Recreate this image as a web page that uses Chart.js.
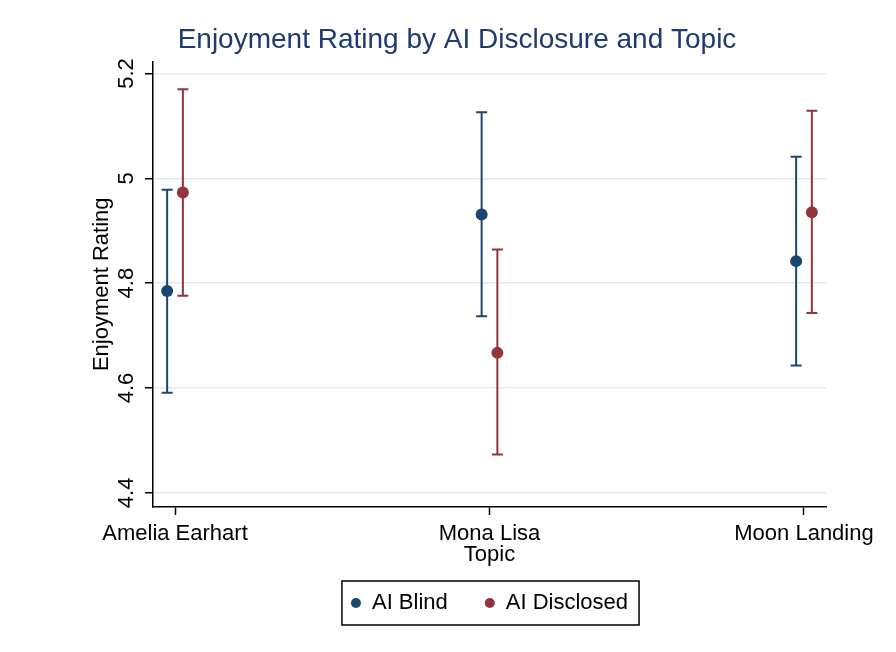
<!DOCTYPE html>
<html>
<head>
<meta charset="utf-8">
<script src="https://cdn.jsdelivr.net/npm/chart.js@4.4.0/dist/chart.umd.min.js"></script>
<style>
html,body{margin:0;padding:0;background:#fff;}
</style>
</head>
<body>
<canvas id="chart" width="896" height="652"></canvas>
<script>
const topics=["Amelia Earhart","Mona Lisa","Moon Landing"];
const blindMean=[4.785,4.931,4.842];
const blindLow=[4.591,4.737,4.643];
const blindHigh=[4.978,5.126,5.041];
const disclosedMean=[4.973,4.667,4.935];
const disclosedLow=[4.776,4.473,4.743];
const disclosedHigh=[5.170,4.864,5.129];
const yTicks=[4.4,4.6,4.8,5,5.2];

const navy="#1a476f", maroon="#90353b";
Chart.defaults.font.family="'Liberation Sans', Arial, sans-serif";

// dodge the two groups a little left/right of each topic
function points(mean,low,high,shift){
  return mean.map((m,i)=>({x:i+shift,y:m,lo:low[i],hi:high[i]}));
}

const errorBars={
  id:"errorBars",
  beforeDatasetsDraw(chart){
    const {ctx,scales:{x,y}}=chart;
    chart.data.datasets.forEach(ds=>{
      ctx.save();
      ctx.strokeStyle=ds.borderColor;
      ctx.lineWidth=2;
      ds.data.forEach(p=>{
        const px=x.getPixelForValue(p.x), lo=y.getPixelForValue(p.lo), hi=y.getPixelForValue(p.hi);
        ctx.beginPath();
        ctx.moveTo(px,lo);ctx.lineTo(px,hi);
        ctx.moveTo(px-5.5,lo);ctx.lineTo(px+5.5,lo);
        ctx.moveTo(px-5.5,hi);ctx.lineTo(px+5.5,hi);
        ctx.stroke();
      });
      ctx.restore();
    });
  }
};

const legendBox={
  id:"legendBox",
  afterDraw(chart){
    const boxes=chart.legend.legendHitBoxes;
    if(!boxes||!boxes.length) return;
    const a=boxes[0], b=boxes[boxes.length-1];
    const ctx=chart.ctx;
    ctx.save();
    ctx.strokeStyle="#000";ctx.lineWidth=1.5;
    const l=a.left-9, r=b.left+b.width+11;
    ctx.strokeRect(l,a.top-11,r-l,a.height+22);
    ctx.restore();
  }
};

new Chart(document.getElementById("chart"),{
  type:"scatter",
  data:{
    datasets:[
      {label:"AI Blind",data:points(blindMean,blindLow,blindHigh,-0.025),
        backgroundColor:navy,borderColor:navy,pointRadius:6,pointHoverRadius:6,borderWidth:0},
      {label:"AI Disclosed",data:points(disclosedMean,disclosedLow,disclosedHigh,0.025),
        backgroundColor:maroon,borderColor:maroon,pointRadius:6,pointHoverRadius:6,borderWidth:0}
    ]
  },
  options:{
    responsive:false,
    devicePixelRatio:1,
    animation:false,
    layout:{padding:{left:18,right:0,top:0,bottom:28}},
    plugins:{
      title:{display:true,text:"Enjoyment Rating by AI Disclosure and Topic",color:"#1e3a6e",
        font:{size:28,weight:"normal",lineHeight:1.2},padding:{top:23,bottom:5}},
      legend:{position:"bottom",fullSize:false,
        labels:{usePointStyle:true,pointStyleWidth:10,boxHeight:7,padding:37,color:"#000",font:{size:22}}},
      tooltip:{enabled:false}
    },
    scales:{
      x:{type:"linear",min:-0.07,max:2.07,
        afterBuildTicks:s=>{s.ticks=topics.map((t,i)=>({value:i}));},
        afterFit:s=>{s.height=48;},
        ticks:{callback:(v,i)=>topics[i],color:"#000",font:{size:22,lineHeight:1},padding:8,maxRotation:0,autoSkip:false},
        grid:{drawOnChartArea:false,tickLength:8,tickColor:"#000",tickWidth:1.5},
        border:{color:"#000",width:1.5},
        title:{display:true,text:"Topic",color:"#000",font:{size:22,lineHeight:1},padding:{top:0,bottom:-11}}
      },
      y:{min:4.373,max:5.2226,
        afterBuildTicks:s=>{s.ticks=yTicks.map(v=>({value:v}));},
        afterFit:s=>{s.width=135;},
        ticks:{callback:v=>String(v),minRotation:90,maxRotation:90,crossAlign:"center",padding:3,
          color:"#000",font:{size:22,lineHeight:1},autoSkip:false},
        grid:{color:"#e2ebef",lineWidth:1.5,tickLength:8,tickColor:"#000",tickWidth:1.5},
        border:{color:"#000",width:1.5},
        title:{display:true,text:"Enjoyment Rating",color:"#000",font:{size:22,lineHeight:1},padding:{top:73}}
      },
      yRight:{type:"linear",position:"right",display:true,
        afterFit:s=>{s.width=70;},
        ticks:{display:false},grid:{display:false},border:{display:false}}
    }
  },
  plugins:[errorBars,legendBox]
});
</script>
</body>
</html>
